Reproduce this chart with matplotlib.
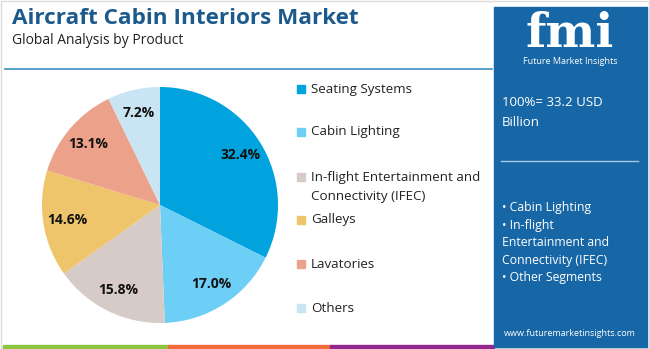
import matplotlib.pyplot as plt
from matplotlib.patches import Rectangle
import numpy as np

plt.rcParams['font.family'] = ['Open Sans', 'DejaVu Sans']

products = ['Seating Systems', 'Cabin Lighting',
            'In-flight Entertainment and\nConnectivity (IFEC)',
            'Galleys', 'Lavatories', 'Others']
shares = [32.4, 17.0, 15.8, 14.6, 13.1, 7.2]
colors = ['#00a3dd', '#6dcff6', '#d6cbc7', '#eec56b', '#eca18b', '#c9e4f3']
legend_y = [89, 132, 177, 220, 264, 308]
side_items = ['• Cabin Lighting', '• In-flight', 'Entertainment and',
              'Connectivity (IFEC)', '• Other Segments']

W, H = 650, 349
fig = plt.figure(figsize=(6.5, 3.49), dpi=100)
fig.patch.set_facecolor('white')


def fx(px):
    return px / W


def fy(py):
    return 1 - py / H


# outer border
fig.patches.append(Rectangle((fx(1), fy(348)), fx(648), 347 / H, transform=fig.transFigure,
                             fill=False, edgecolor='#dddddd', lw=1))

fig.text(fx(12), fy(18), 'Aircraft Cabin Interiors Market', fontsize=16.2, fontweight='bold',
         color='#1c5a8d', va='center')
fig.text(fx(12), fy(41), 'Global Analysis by Product', fontsize=10, color='#222222', va='center')
fig.lines.append(plt.Line2D([fx(5), fx(492)], [fy(69), fy(69)], transform=fig.transFigure,
                            color='#3d8fc4', lw=1.2))

# bottom colour strip
for x0, x1, c in [(3, 168, '#8cc63f'), (168, 330, '#f26b3a'), (330, 494, '#92278f')]:
    fig.patches.append(Rectangle((fx(x0), fy(348)), fx(x1 - x0), 3 / H, transform=fig.transFigure,
                                 color=c))

# right panel
fig.patches.append(Rectangle((fx(494), fy(347)), fx(153), 340 / H, transform=fig.transFigure,
                             color='#1766a6'))
fig.text(fx(570), fy(34), 'fmi', fontsize=34, fontweight='bold', color='white',
         ha='center', va='center', family=['DejaVu Serif'])
fig.text(fx(570), fy(61), 'Future Market Insights', fontsize=6.5, color='white',
         ha='center', va='center')
fig.text(fx(502), fy(102), '100%= 33.2 USD', fontsize=9.5, color='white', va='center')
fig.text(fx(502), fy(122), 'Billion', fontsize=9.5, color='white', va='center')
fig.lines.append(plt.Line2D([fx(501), fx(638)], [fy(161), fy(161)], transform=fig.transFigure,
                            color='#a9c9e3', lw=1))
for i, t in enumerate(side_items):
    fig.text(fx(502), fy(208 + i * 17.5), t, fontsize=8.8, color='white', va='center')
fig.text(fx(570), fy(333), 'www.futuremarketinsights.com', fontsize=6.5, color='white',
         ha='center', va='center')

# pie
cx, cy, r = 160, 205, 118
ax = fig.add_axes([fx(cx - r), (H - cy - r) / H, fx(2 * r), 2 * r / H])
wedges, _ = ax.pie(shares, colors=colors, startangle=90, counterclock=False,
                   wedgeprops=dict(linewidth=0))
ax.set_xlim(-1, 1)
ax.set_ylim(-1, 1)
ax.set_aspect('equal')
ax.axis('off')
for w, v in zip(wedges, shares):
    ang = np.deg2rad((w.theta1 + w.theta2) / 2)
    ax.text(0.8 * np.cos(ang), 0.8 * np.sin(ang), f'{v:.1f}%', ha='center', va='center',
            fontsize=10, fontweight='bold', color='#111111')

# legend
for name, c, y in zip(products, colors, legend_y):
    fig.patches.append(Rectangle((fx(297), fy(y + 4)), fx(8), 8 / H, transform=fig.transFigure,
                                 color=c))
    ty = y + 10 if '\n' in name else y
    fig.text(fx(311), fy(ty), name, fontsize=9.6, color='#222222', va='center',
             linespacing=1.55)

fig.savefig('out.png', dpi=100)
